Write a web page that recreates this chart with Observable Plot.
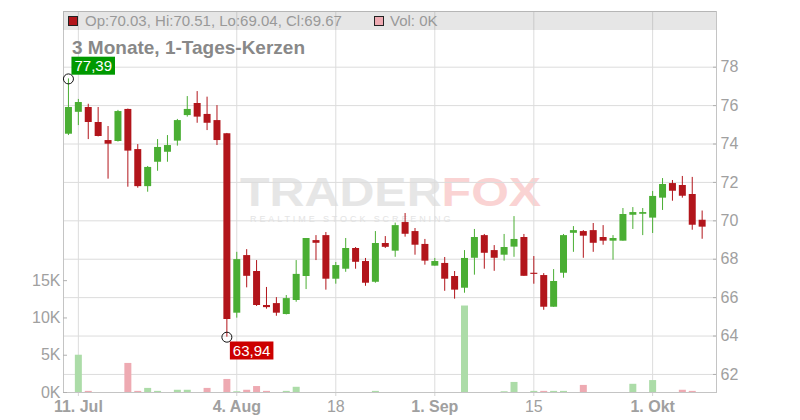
<!DOCTYPE html>
<html><head><meta charset="utf-8">
<script src="https://cdn.jsdelivr.net/npm/d3@7"></script>
<script src="https://cdn.jsdelivr.net/npm/@observablehq/plot@0.6"></script>
<style>
body{margin:0;background:#fff;font-family:"Liberation Sans",Arial,sans-serif;}
#wrap{position:relative;width:800px;height:420px;overflow:hidden;background:#fff;}
#wrap>*{position:absolute;}
svg{position:absolute;left:0;top:0;}
</style></head><body><div id="wrap"></div>
<script>
// ---- data ----
const opens  = [74.51,75.65,75.90,75.12,74.18,74.13,75.80,73.71,71.78,73.05,73.57,74.15,75.48,76.11,75.54,75.22,74.53,65.19,68.19,67.36,65.59,65.69,65.12,65.85,67.10,68.97,69.23,66.96,67.48,68.56,67.88,66.80,68.82,68.42,69.91,69.44,68.77,67.64,67.78,67.10,66.49,68.05,69.23,68.45,68.21,68.63,69.13,67.27,67.15,65.50,67.27,69.35,69.44,69.49,69.13,68.94,68.94,70.29,70.34,70.14,71.18,71.94,71.84,71.37,70.03];
const highs  = [77.39,76.32,76.07,75.90,74.91,75.75,75.82,73.97,72.83,74.23,74.44,75.28,76.47,76.73,76.44,76.00,74.55,68.36,68.50,67.93,66.53,66.00,66.11,67.93,69.08,69.23,69.39,67.83,69.08,68.61,68.04,69.44,69.18,69.88,70.38,69.60,69.03,68.04,68.09,67.36,68.45,69.55,69.29,68.71,69.29,70.22,69.29,68.14,67.25,67.46,69.29,69.70,69.49,69.86,69.75,69.23,70.64,70.69,70.64,71.53,72.20,72.10,72.31,72.26,70.51];
const lows   = [74.44,74.96,74.23,74.37,72.17,74.10,71.75,71.70,71.49,72.58,73.05,73.89,75.40,75.08,74.70,73.92,63.94,64.93,66.51,65.54,65.40,65.03,65.10,65.76,66.42,67.93,66.39,66.70,67.32,67.48,66.59,66.75,68.56,68.10,69.15,68.21,67.69,67.64,66.33,65.92,66.23,67.17,67.48,67.37,67.90,68.10,67.11,66.70,65.34,65.50,67.01,68.36,68.05,68.36,68.73,67.95,68.94,69.55,69.23,69.34,70.54,71.02,71.18,69.51,69.04];
const closes = [75.90,76.16,75.12,74.39,73.99,75.69,73.63,71.78,72.78,73.82,73.92,75.22,75.80,75.40,75.08,74.18,64.86,67.98,67.11,65.59,65.48,65.19,65.95,67.21,69.08,68.83,66.96,67.67,68.56,67.84,66.75,68.82,68.62,69.75,69.30,68.73,67.90,67.88,66.96,66.39,68.04,69.13,68.31,68.05,68.61,69.03,67.11,67.21,65.50,66.84,69.23,69.49,69.20,68.83,68.94,69.08,70.33,70.43,70.43,71.27,71.89,71.54,71.28,69.77,69.67];
const volumesK = [0,5.0,0.15,0,0,0,3.9,0.15,0.55,0.15,0,0.3,0.3,0,0.55,0,1.75,0.1,0.3,0.8,0.15,0,0.15,0.7,0,0,0,0,0,0,0,0.15,0,0,0,0,0,0,0,0,11.6,0,0,0,0.1,1.35,0,0.15,0.15,0.15,0.15,0,0.95,0,0,0,0,1.1,0,1.6,0,0,0.3,0.15,0];
const tickIndex  = [1,17,27,37,47,59];
const tickLabels = ["11. Jul","4. Aug","18","1. Sep","15","1. Okt"];
const priceTicks = [62,64,66,68,70,72,74,76,78];
const volumeTicks = [0,5,10,15];
const titleText = "3 Monate, 1-Tages-Kerzen";

// ---- build ----
const RED="#b2151b", GREEN="#4aae33", VGREEN="#acdca8", VRED="#eeaab2";
const W=800,H=420,mL=63,mR=84,mT=11,mB=28;
const xDomain=[-0.5,65.45];
const candles = closes.map((c,i)=>({i,open:opens[i],high:highs[i],low:lows[i],close:c,col:c>=opens[i]?GREEN:RED}));
const vols = volumesK.map((v,i)=>({i,v,col:(i===0?closes[i]>=opens[i]:closes[i]>=closes[i-1])?VGREEN:VRED})).filter(d=>d.v>0);
const hi = candles.reduce((a,b)=>b.high>a.high?b:a);
const lo = candles.reduce((a,b)=>b.low<a.low?b:a);
const fmt = v=>v.toFixed(2).replace(".",",");
const font = "Liberation Sans, Arial, sans-serif";
const wrap = document.getElementById("wrap");

// watermark
const wm = document.createElement("div");
wm.style.cssText="left:240px;top:172px;font:bold 41px/41px 'Liberation Sans',Arial,sans-serif;white-space:nowrap;transform:scaleX(1.18);transform-origin:0 0;";
wm.innerHTML='<span style="color:#e6e6e6">TRADER</span><span style="color:#fad3d3">FOX</span>';
wrap.appendChild(wm);
const wm2 = document.createElement("div");
wm2.style.cssText="left:250px;top:215px;font:9px/9px 'Liberation Sans',Arial,sans-serif;letter-spacing:2.9px;color:#e4e4e4;white-space:nowrap;";
wm2.textContent="REALTIME STOCK SCREENING";
wrap.appendChild(wm2);

const pricePlot = Plot.plot({
  width:W,height:H,marginLeft:mL,marginRight:mR,marginTop:mT,marginBottom:mB,
  style:{background:"transparent",fontFamily:font,fontSize:"16px",overflow:"visible"},
  color:{type:"identity"},
  x:{domain:xDomain,axis:null},
  y:{domain:[61.06,80.90],axis:null},
  marks:[
    Plot.gridX(tickIndex,{stroke:"#dcdcdc",strokeOpacity:1}),
    Plot.gridY(priceTicks,{stroke:"#dcdcdc",strokeOpacity:1}),
    Plot.axisX(tickIndex,{anchor:"bottom",label:null,tickSize:4,tickPadding:4,tickFormat:d=>tickLabels[tickIndex.indexOf(d)],stroke:"#d4d4d4",fill:"#a0a0a0",fontSize:16}),
    Plot.axisY(priceTicks,{anchor:"right",label:null,tickSize:4,dx:-4,tickPadding:4,stroke:"#b0b0b0",fill:"#a0a0a0",fontSize:16}),
    Plot.frame({stroke:"#c4c4c4"}),
    Plot.ruleX(candles,{x:"i",y1:"low",y2:"high",stroke:"col",strokeWidth:1}),
    Plot.ruleX(candles,{x:"i",y1:"open",y2:"close",stroke:"col",strokeWidth:7}),
    Plot.dot([hi],{x:"i",y:"high",r:5,stroke:"#111",fill:"none",strokeWidth:1}),
    Plot.dot([lo],{x:"i",y:"low",r:5,stroke:"#111",fill:"none",strokeWidth:1}),
    Plot.text([hi],{x:"i",y:"high",text:d=>fmt(d.high),textAnchor:"start",dx:6,dy:-12.5,fill:"white",fontSize:15}),
    Plot.text([lo],{x:"i",y:"low",text:d=>fmt(d.low),textAnchor:"start",dx:6,dy:14,fill:"white",fontSize:15})
  ]
});
wrap.appendChild(pricePlot);

const volPlot = Plot.plot({
  width:W,height:H,marginLeft:mL,marginRight:mR,marginTop:mT,marginBottom:mB,
  style:{background:"transparent",fontFamily:font,fontSize:"16px",overflow:"visible"},
  color:{type:"identity"},
  x:{domain:xDomain,axis:null},
  y:{domain:[0,51.1],axis:null},
  marks:[
    Plot.ruleX(vols,{x:"i",y1:0,y2:"v",stroke:"col",strokeWidth:7}),
    Plot.axisY(volumeTicks,{anchor:"left",label:null,tickSize:4,dx:4,tickPadding:3,tickFormat:d=>d+"K",stroke:"#b0b0b0",fill:"#a0a0a0",fontSize:16})
  ]
});
wrap.appendChild(volPlot);

// bold month labels on the x axis
d3.select(pricePlot).selectAll("g[aria-label='x-axis tick label'] text").each(function(){
  if (this.textContent.includes(". ")) d3.select(this).attr("font-weight","bold");
});
// boxes behind the high/low labels
const boxColors=["#009900","#cc0000"];
d3.select(pricePlot).selectAll("g[aria-label='text']").filter(function(){return this.getAttribute("fill")==="white";}).each(function(_,k){
  const g=this;
  d3.select(g).selectAll("text").each(function(){
    const b=this.getBBox();
    const r=document.createElementNS("http://www.w3.org/2000/svg","rect");
    r.setAttribute("x",b.x-3);r.setAttribute("y",b.y+b.height/2-9);
    r.setAttribute("width",b.width+6);r.setAttribute("height",18);
    r.setAttribute("fill",boxColors[k]);
    const t=this.getAttribute("transform"); if(t) r.setAttribute("transform",t);
    g.insertBefore(r,this);
  });
});

// header band
const last = candles[candles.length-1];
const lastVol = volumesK[volumesK.length-1];
const hdr = document.createElement("div");
hdr.style.cssText="left:63px;top:11px;width:653px;height:19px;background:rgba(128,128,128,0.2);";
hdr.innerHTML=
 `<div style="position:absolute;left:5px;top:5px;width:8px;height:8px;background:${RED};border:1px solid #222"></div>`+
 `<div style="position:absolute;left:22px;top:2px;font:15px/15px 'Liberation Sans',Arial,sans-serif;color:#999;white-space:nowrap">Op:${last.open.toFixed(2)}, Hi:${last.high.toFixed(2)}, Lo:${last.low.toFixed(2)}, Cl:${last.close.toFixed(2)}</div>`+
 `<div style="position:absolute;left:311px;top:5px;width:8px;height:8px;background:${VRED};border:1px solid #222"></div>`+
 `<div style="position:absolute;left:327px;top:2px;font:15px/15px 'Liberation Sans',Arial,sans-serif;color:#999;white-space:nowrap">Vol: ${Math.round(lastVol)}K</div>`;
wrap.appendChild(hdr);

// title
const ttl = document.createElement("div");
ttl.style.cssText="left:72px;top:38px;font:bold 19px/19px 'Liberation Sans',Arial,sans-serif;color:#888;white-space:nowrap;";
ttl.textContent=titleText;
wrap.appendChild(ttl);
</script></body></html>
